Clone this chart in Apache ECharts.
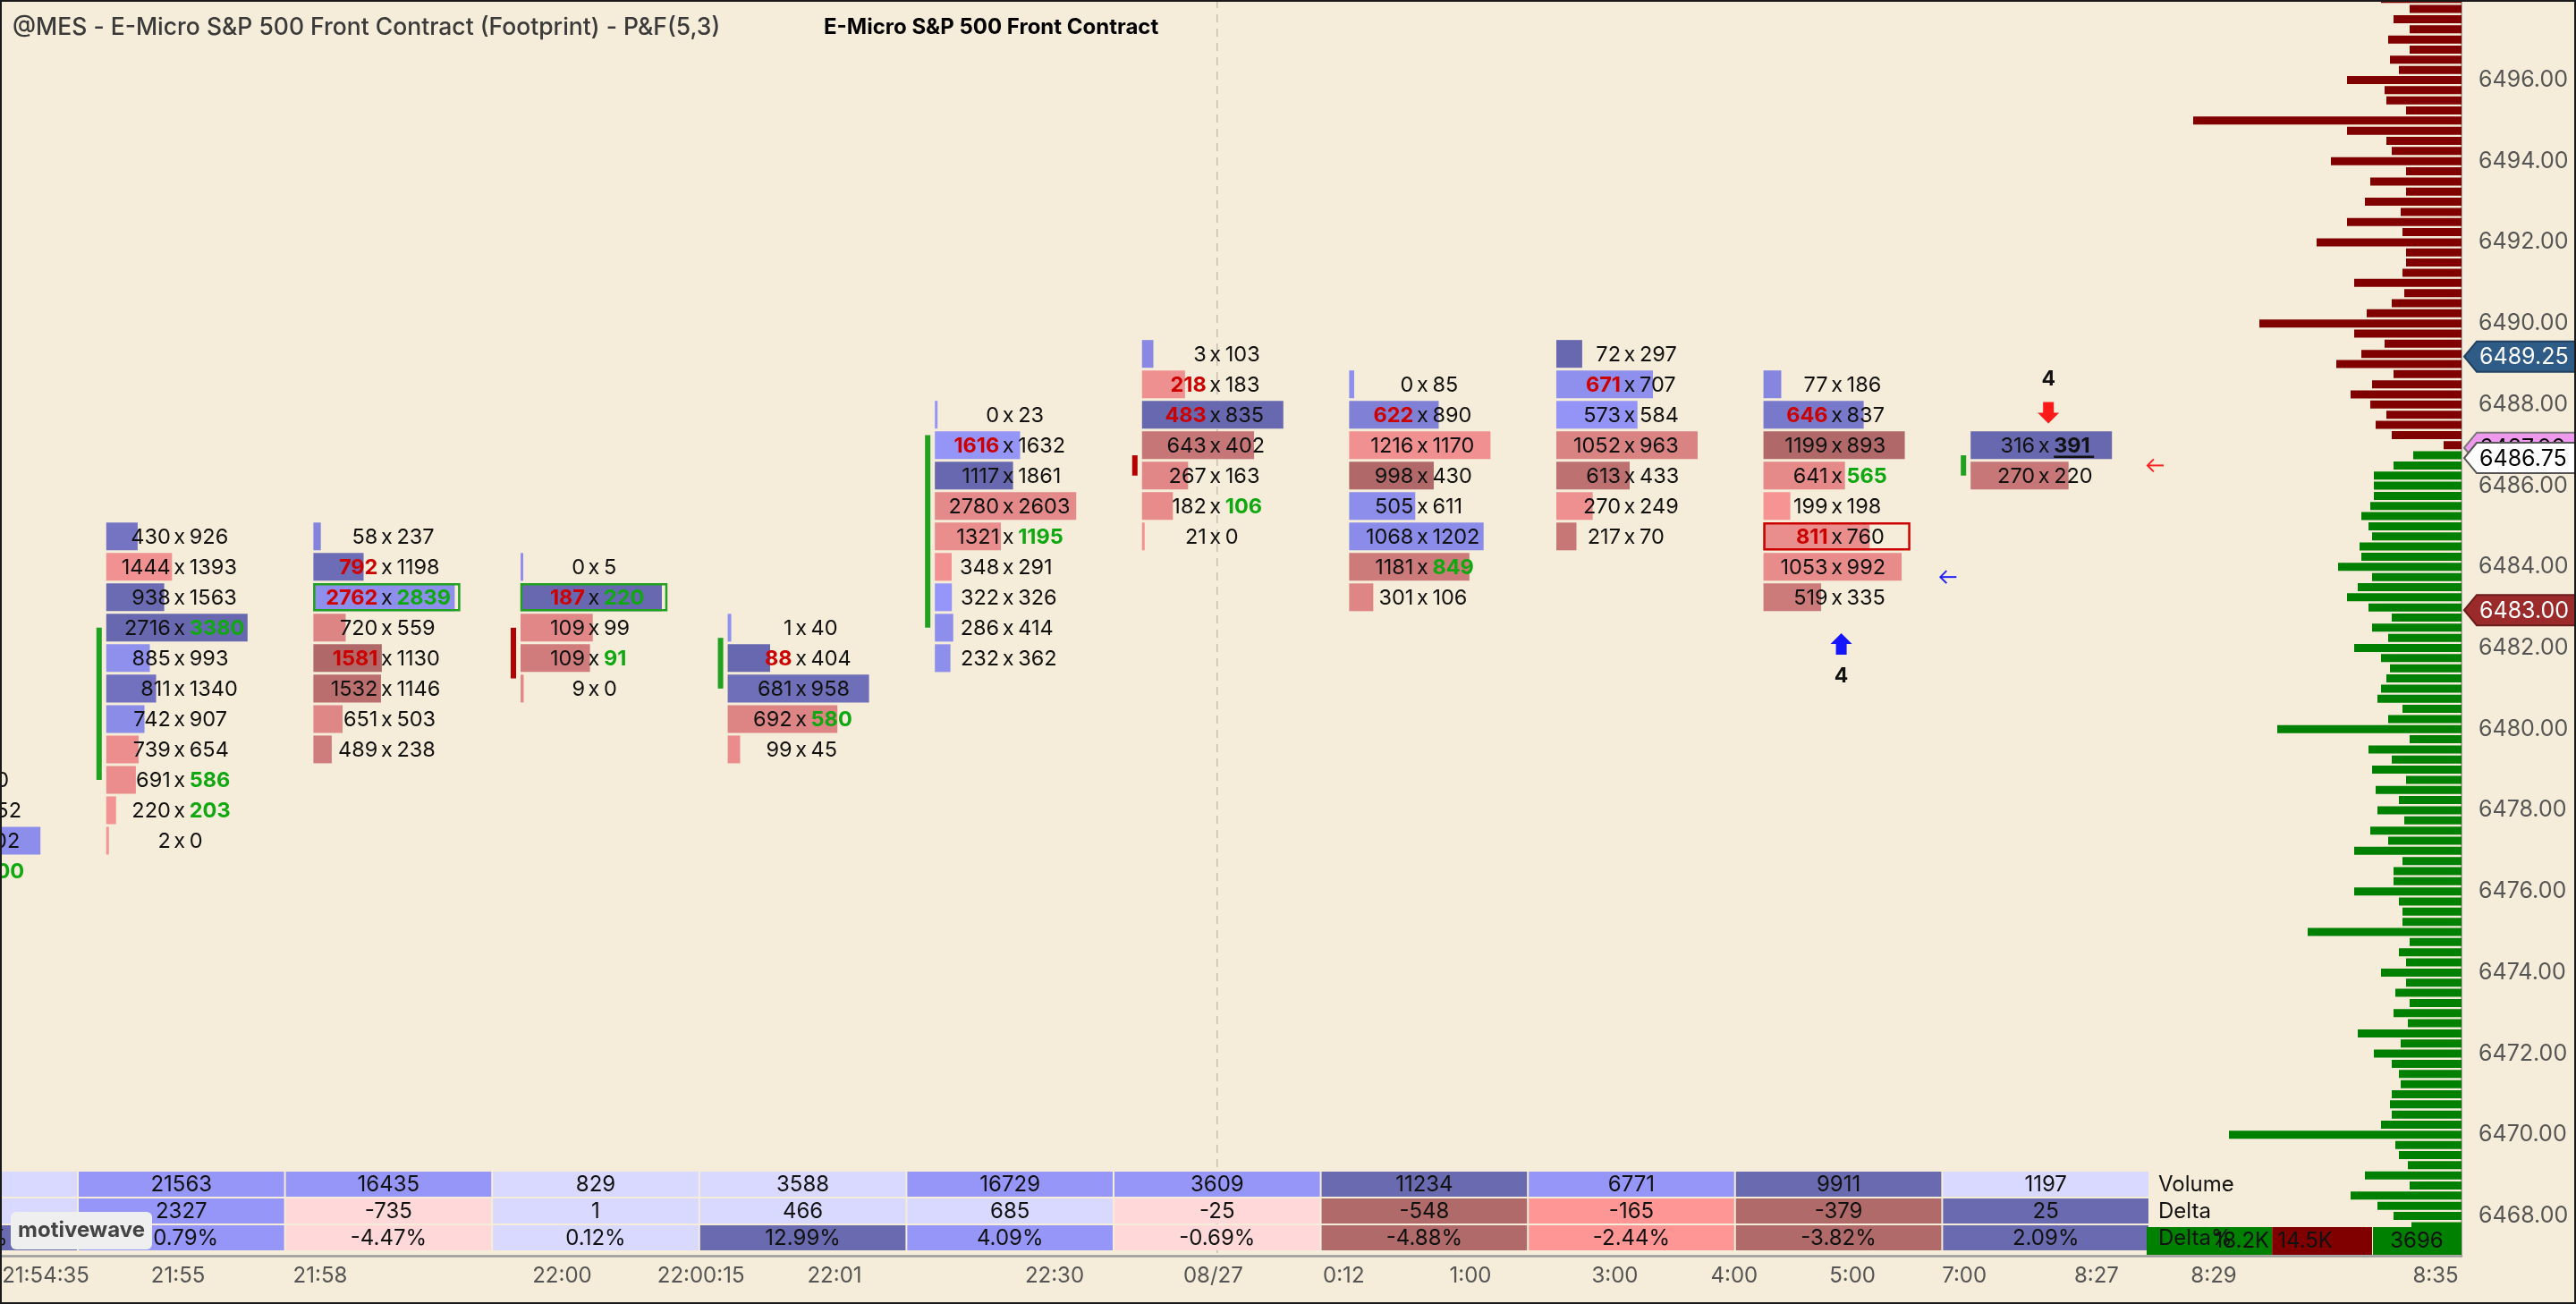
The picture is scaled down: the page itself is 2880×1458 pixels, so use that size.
<!DOCTYPE html>
<html>
<head>
<meta charset="utf-8">
<title>@MES Footprint P&amp;F</title>
<script src="https://cdn.jsdelivr.net/npm/echarts@6.0.0/dist/echarts.min.js"></script>
<style>
html,body{margin:0;padding:0;background:#f5ecd9;overflow:hidden;}
#chart{width:2880px;height:1458px;}
</style>
</head>
<body>
<div id="chart"></div>
<script>
// ================= DATA =================
const chartTitle = '@MES - E-Micro S&P 500 Front Contract (Footprint) - P&F(5,3)';
const chartSubtitle = 'E-Micro S&P 500 Front Contract';
const watermarkText = 'motivewave';

// footprint columns (index on the x axis), top price of each column, rows step down by 0.75
const columnIndex = [0, 1, 2, 3, 4, 5, 6, 7, 8, 9, 10];
const columnTopPrice = [6478.75, 6484.75, 6484.75, 6484.0, 6482.5, 6487.75, 6489.25, 6488.5, 6489.25, 6488.5, 6487.0];
const bidVolume = [
  [62, 498, 655, 360, 120],
  [430, 1444, 938, 2716, 885, 811, 742, 739, 691, 220, 2],
  [58, 792, 2762, 720, 1581, 1532, 651, 489],
  [0, 187, 109, 109, 9],
  [1, 88, 681, 692, 99],
  [0, 1616, 1117, 2780, 1321, 348, 322, 286, 232],
  [3, 218, 483, 643, 267, 182, 21],
  [0, 622, 1216, 998, 505, 1068, 1181, 301],
  [72, 671, 573, 1052, 613, 270, 217],
  [77, 646, 1199, 641, 199, 811, 1053, 519],
  [316, 270]
];
const askVolume = [
  [40, 452, 702, 600, 4],
  [926, 1393, 1563, 3380, 993, 1340, 907, 654, 586, 203, 0],
  [237, 1198, 2839, 559, 1130, 1146, 503, 238],
  [5, 220, 99, 91, 0],
  [40, 404, 958, 580, 45],
  [23, 1632, 1861, 2603, 1195, 291, 326, 414, 362],
  [103, 183, 835, 402, 163, 106, 0],
  [85, 890, 1170, 430, 611, 1202, 849, 106],
  [297, 707, 584, 963, 433, 249, 70],
  [186, 837, 893, 565, 198, 760, 992, 335],
  [391, 220]
];
const imbalanceRatio = 2;

// highlighted cells
const boxCol = [2, 3, 9];
const boxPrice = [6483.25, 6483.25, 6484.75];
const boxKind = ['both', 'both', 'bid'];
const lastTradeCol = 10;
const lastTradePrice = 6487.0;

// open/close markers at the left of columns
const markerCol = [1, 3, 4, 5, 6, 10];
const markerFrom = [6482.5, 6482.5, 6482.25, 6487.25, 6486.75, 6486.75];
const markerTo = [6478.75, 6481.25, 6481.0, 6482.5, 6486.25, 6486.25];
const markerUp = [1, 0, 1, 1, 0, 1];

// reversal signals
const signalCol = [9, 10];
const signalPrice = [6482.1, 6487.8];
const signalUp = [1, 0];
const signalCount = [4, 4];

// small side arrows
const sideArrowPos = [10.03, 11.03];
const sideArrowPrice = [6483.75, 6486.5];
const sideArrowSell = [0, 1];

// price tags on the right axis
const tagPrice = [6487.00, 6486.75, 6489.25, 6483.00];
const tagKind = ['alert', 'last', 'high', 'low'];

// time axis labels
const timeTickPos = [0.845, 1.484, 2.170, 3.338, 4.008, 4.653, 5.715, 6.481, 7.111, 7.723, 8.420, 8.996, 9.567, 10.107, 10.745, 11.311, 12.382];
const timeTickLabels = ['21:54:35', '21:55', '21:58', '22:00', '22:00:15', '22:01', '22:30', '08/27', '0:12', '1:00', '3:00', '4:00', '5:00', '7:00', '8:27', '8:29', '8:35'];
const sessionBreak = [6.5];

// price axis labels
const priceTicks = [6468, 6470, 6472, 6474, 6476, 6478, 6480, 6482, 6484, 6486, 6488, 6490, 6492, 6494, 6496, 6498];

// summary table
const tableRows = ['Volume', 'Delta', 'Delta%'];
const volumeTotals = [4120, 21563, 16435, 829, 3588, 16729, 3609, 11234, 6771, 9911, 1197];
const deltaTotals = [352, 2327, -735, 1, 466, 685, -25, -548, -165, -379, 25];
const deltaPercent = ['8.54%', '10.79%', '-4.47%', '0.12%', '12.99%', '4.09%', '-0.69%', '-4.88%', '-2.44%', '-3.82%', '2.09%'];
const volumeShade = [0, 1, 1, 0, 0, 1, 1, 2, 1, 2, 0];
const deltaShade = [0, 1, 0, 0, 0, 0, 0, 2, 1, 2, 2];
const percentShade = [2, 1, 0, 0, 2, 1, 0, 2, 1, 2, 2];

// volume profile (0.25 ticks), upper part from 6498.00 down, lower part from 6486.75 down
const profileUpperTop = 6498.0;
const profileUpperVolume = [900, 580, 760, 580, 820, 580, 800, 700, 1280, 860, 840, 620, 3000, 1280, 840, 780, 1460, 620, 1020, 620, 1080, 680, 1280, 660, 1620, 620, 620, 660, 1200, 640, 780, 1060, 2260, 1200, 860, 1120, 1400, 760, 1000, 1240, 1020, 840, 960, 780, 200];
const profileLowerTop = 6486.75;
const profileLowerVolume = [540, 760, 980, 980, 980, 1020, 1120, 1040, 1000, 1140, 1120, 1380, 1000, 1160, 1280, 1040, 780, 1000, 820, 1200, 900, 800, 840, 900, 940, 660, 820, 2060, 580, 1040, 780, 1000, 620, 960, 700, 940, 640, 1020, 820, 1200, 660, 760, 760, 1200, 700, 660, 660, 1720, 580, 700, 620, 900, 620, 740, 580, 760, 600, 1160, 680, 980, 780, 700, 680, 780, 800, 780, 900, 2600, 740, 700, 600, 1080, 580, 1240, 940, 760, 560];
const profileTotalLabels = ['18.2K', '14.5K', '3696'];
const profileTotalValues = [18200, 14500, 3696];

// ================= STYLE / LAYOUT =================
const FONT = 'Inter, "Noto Sans", sans-serif';
const X_MIN = 0.6244, X_MAX = 12.507;
const Y_MIN = 6467.02, Y_MAX = 6497.973;
const ROW_STEP = 0.75, TICK = 0.25;
const BAR_OFFSET = 82, BAR_MAX = 158;
const FP_FONT = '23.5px ';
const BLUE_LIGHT = [150, 150, 250], BLUE_DARK = [104, 104, 176];
const RED_LIGHT = [246, 148, 148], RED_DARK = [176, 104, 104];
const BOX_KINDS = ['both', 'bid'];
const BOX_COLORS = ['#22a022', '#cc0000'];
const BLUE_SHADES = ['#d9d9ff', '#9696f8', '#6a6ab0'];
const RED_SHADES = ['#ffd9d9', '#ff9696', '#b06a6a'];
const TAG_STYLE = {
  alert: { fill: '#ee99ee', stroke: '#777', text: '#000' },
  last: { fill: '#ffffff', stroke: '#555', text: '#000' },
  high: { fill: '#2f5b87', stroke: '#22405f', text: '#fff' },
  low: { fill: '#9b2a2a', stroke: '#6a1c1c', text: '#fff' }
};

function mix(a, b, t) {
  t = Math.max(0, Math.min(1, t));
  return 'rgb(' + a.map((v, i) => Math.round(v + (b[i] - v) * t)).join(',') + ')';
}
function txt(x, y, text, font, fill, align, vAlign) {
  return { type: 'text', style: { x, y, text, font, fill, align, textAlign: align, verticalAlign: vAlign || 'middle', textVerticalAlign: vAlign || 'middle' } };
}

// ---------- build footprint items ----------
const fpItems = [];
columnIndex.forEach(c => {
  const bids = bidVolume[c], asks = askVolume[c];
  let maxTot = 0, maxD = 0;
  bids.forEach((b, i) => { maxTot = Math.max(maxTot, b + asks[i]); maxD = Math.max(maxD, Math.abs(asks[i] - b)); });
  bids.forEach((b, i) => {
    const a = asks[i];
    const price = columnTopPrice[c] - i * ROW_STEP;
    const bidImb = (i > 0 && b > 0 && b >= imbalanceRatio * asks[i - 1]) ? 1 : 0;
    const askImb = (i < bids.length - 1 && a > 0 && a >= imbalanceRatio * bids[i + 1]) ? 1 : 0;
    let box = -1;
    boxCol.forEach((bc, k) => { if (bc === c && Math.abs(boxPrice[k] - price) < 1e-6) box = BOX_KINDS.indexOf(boxKind[k]); });
    const under = (c === lastTradeCol && Math.abs(price - lastTradePrice) < 1e-6) ? 1 : 0;
    fpItems.push([c, price, b, a, maxTot, maxD, bidImb, askImb, box, under]);
  });
});

function renderFootprint(params, api) {
  const c = api.value(0), price = api.value(1);
  const bid = api.value(2), ask = api.value(3), maxTot = api.value(4), maxD = api.value(5);
  const bidImb = api.value(6), askImb = api.value(7), box = api.value(8), under = api.value(9);
  const p = api.coord([c + 0.5, price]);
  const cx = p[0] - 2, cy = p[1];
  const rowH = api.size([0, ROW_STEP])[1];
  const barLeft = cx - BAR_OFFSET;
  const w = Math.max(3, (bid + ask) / maxTot * BAR_MAX);
  const d = ask - bid;
  const t = maxD > 0 ? Math.abs(d) / maxD : 0;
  const fill = d > 0 ? mix(BLUE_LIGHT, BLUE_DARK, t) : mix(RED_LIGHT, RED_DARK, t);
  const children = [
    { type: 'rect', shape: { x: barLeft, y: cy - rowH / 2 + 1.5, width: w, height: rowH - 3 }, style: { fill } }
  ];
  if (box >= 0) {
    children.push({ type: 'rect', shape: { x: barLeft + 1, y: cy - rowH / 2 + 2.5, width: BAR_MAX + 4, height: rowH - 5 },
      style: { fill: 'none', stroke: BOX_COLORS[box], lineWidth: 2.5 } });
  }
  const bidStr = String(bid), askStr = String(ask);
  children.push(txt(cx - 10, cy + 1, bidStr, (bidImb ? 'bold ' : '') + FP_FONT + FONT, bidImb ? '#cc0000' : '#111', 'right'));
  children.push(txt(cx, cy + 1, 'x', FP_FONT + FONT, '#111', 'center'));
  children.push(txt(cx + 11, cy + 1, askStr, ((askImb || under) ? 'bold ' : '') + FP_FONT + FONT, askImb ? '#10a810' : '#111', 'left'));
  if (under) {
    const tw = askStr.length * 15;
    children.push({ type: 'line', shape: { x1: cx + 11, y1: cy + 13, x2: cx + 11 + tw, y2: cy + 13 }, style: { stroke: '#111', lineWidth: 2.5 } });
  }
  return { type: 'group', children };
}

function renderMarker(params, api) {
  const c = api.value(0);
  const a = api.coord([c + 0.5, api.value(1)]);
  const b = api.coord([c + 0.5, api.value(2)]);
  const x = a[0] - 2 - BAR_OFFSET - 11;
  return { type: 'rect', shape: { x, y: Math.min(a[1], b[1]), width: 6, height: Math.abs(b[1] - a[1]) },
    style: { fill: api.value(3) ? '#22a022' : '#b30000' } };
}

function renderSignal(params, api) {
  const c = api.value(0), up = api.value(2), count = api.value(3);
  const p = api.coord([c + 0.5, api.value(1)]);
  const cx = p[0] + 3, cy = p[1];
  const s = up ? -1 : 1;
  const pts = [[cx - 6, cy - 12 * s], [cx + 6, cy - 12 * s], [cx + 6, cy], [cx + 12, cy], [cx, cy + 12 * s], [cx - 12, cy], [cx - 6, cy]];
  return { type: 'group', children: [
    { type: 'polygon', shape: { points: pts }, style: { fill: up ? '#1515ff' : '#ff1a1a' } },
    txt(cx, up ? cy + 36 : cy - 37, String(count), 'bold 23px ' + FONT, '#111', 'center')
  ] };
}

function renderSideArrow(params, api) {
  const p = api.coord([api.value(0), api.value(1)]);
  const x = p[0], y = p[1];
  const col = api.value(2) ? '#ff2020' : '#2020ff';
  return { type: 'group', children: [
    { type: 'line', shape: { x1: x - 9, y1: y, x2: x + 9, y2: y }, style: { stroke: col, lineWidth: 2 } },
    { type: 'polyline', shape: { points: [[x - 2, y - 7], [x - 9, y], [x - 2, y + 7]] }, style: { stroke: col, fill: 'none', lineWidth: 2 } }
  ] };
}

function renderTag(params, api) {
  const cs = params.coordSys;
  const x0 = cs.x + cs.width;
  const y = api.coord([X_MAX, api.value(0)])[1] + 3;
  const st = TAG_STYLE[tagKind[api.value(1)]];
  const pts = [[x0 + 3, y], [x0 + 17, y - 17], [x0 + 132, y - 17], [x0 + 132, y + 17], [x0 + 17, y + 17]];
  return { type: 'group', children: [
    { type: 'polygon', shape: { points: pts }, style: { fill: st.fill, stroke: st.stroke, lineWidth: 2 } },
    txt(x0 + 20, y + 1, api.value(0).toFixed(2), '25px ' + FONT, st.text, 'left')
  ] };
}

function renderBreak(params, api) {
  const cs = params.coordSys;
  const x = api.coord([api.value(0), Y_MAX])[0];
  return { type: 'line', shape: { x1: x, y1: cs.y, x2: x, y2: cs.y + cs.height },
    style: { stroke: '#c9bfad', lineWidth: 1.5, lineDash: [9, 7] } };
}

// ---------- table ----------
const tableText = [volumeTotals.map(String), deltaTotals.map(String), deltaPercent];
const tableShade = [volumeShade, deltaShade, percentShade];
const tableItems = [];
columnIndex.forEach(c => { for (let r = 0; r < 3; r++) tableItems.push([c, r]); });

function renderTable(params, api) {
  const c = api.value(0), r = api.value(1);
  const p = api.coord([c, r]);
  const s = api.size([1, 1]);
  const neg = r > 0 && deltaTotals[c] < 0;
  const fill = (neg ? RED_SHADES : BLUE_SHADES)[tableShade[r][c]];
  return { type: 'group', children: [
    { type: 'rect', shape: { x: p[0] + 1, y: p[1] - s[1] / 2 + 1, width: s[0] - 2, height: s[1] - 2 }, style: { fill } },
    txt(p[0] + s[0] / 2, p[1] + 1, tableText[r][c], '24px ' + FONT, '#111', 'center')
  ] };
}

function renderTableSide(params, api) {
  const cs = params.coordSys;
  const startU = api.value(0);
  const children = [];
  const rowC = [0, 1, 2].map(r => api.coord([startU, r]));
  const xs = rowC[2][0] - 3;
  const xe = cs.x + cs.width;
  const yc = rowC[2][1];
  const deltaW = 100;
  const rest = xe - deltaW - xs;
  const buyW = rest * profileTotalValues[0] / (profileTotalValues[0] + profileTotalValues[1]);
  children.push({ type: 'rect', shape: { x: xs, y: yc - 12, width: buyW, height: 31 }, style: { fill: '#008000' } });
  children.push({ type: 'rect', shape: { x: xs + buyW, y: yc - 12, width: rest - buyW, height: 31 }, style: { fill: '#800000' } });
  children.push({ type: 'rect', shape: { x: xe - deltaW + 1, y: yc - 12, width: deltaW - 1, height: 31 }, style: { fill: '#008000' } });
  tableRows.forEach((name, r) => children.push(txt(rowC[r][0] + 10, rowC[r][1] + 1, name, '24px ' + FONT, '#111', 'left')));
  children.push(txt(xs + buyW - 3, yc + 4, profileTotalLabels[0], '24px ' + FONT, '#111', 'right'));
  children.push(txt(xs + buyW + 6, yc + 4, profileTotalLabels[1], '24px ' + FONT, '#111', 'left'));
  children.push(txt(xe - deltaW / 2, yc + 4, profileTotalLabels[2], '24px ' + FONT, '#111', 'center'));
  // watermark badge at the lower-left of the table
  const wx = cs.x + 12, wy = cs.y + 46;
  children.push({ type: 'rect', shape: { x: wx, y: wy, width: 158, height: 42, r: 6 }, style: { fill: '#efefef' } });
  children.push(txt(wx + 79, wy + 21, watermarkText, 'bold 24px ' + FONT, '#444', 'center'));
  return { type: 'group', children };
}

function renderFrame(params, api) {
  const W = api.getWidth(), H = api.getHeight();
  return { type: 'rect', shape: { x: 1, y: 1, width: W - 2, height: H - 2 }, style: { fill: 'none', stroke: '#1a1a1a', lineWidth: 2 } };
}

// ---------- profile ----------
const profileItems = [];
profileUpperVolume.forEach((v, i) => profileItems.push([v, profileUpperTop - i * TICK, 1]));
profileLowerVolume.forEach((v, i) => profileItems.push([v, profileLowerTop - i * TICK, 0]));

function renderProfile(params, api) {
  const price = api.value(1);
  const a = api.coord([0, price]);
  const b = api.coord([api.value(0), price]);
  return { type: 'rect', shape: { x: b[0], y: a[1] - 4.5, width: a[0] - b[0], height: 9 },
    style: { fill: api.value(2) ? '#800000' : '#008000' } };
}

function timeLabel(v) {
  for (let i = 0; i < timeTickPos.length; i++) if (Math.abs(timeTickPos[i] - v) < 1e-4) return timeTickLabels[i];
  return '';
}

// ================= CHART =================
const chart = echarts.init(document.getElementById('chart'));
chart.setOption({
  backgroundColor: '#f5ecd9',
  animation: false,
  textStyle: { fontFamily: FONT },
  title: [
    { text: chartTitle, left: 9, top: 13, textStyle: { fontFamily: FONT, fontSize: 26.5, fontWeight: 500, color: '#3a3a3a' } },
    { text: chartSubtitle, left: 916, top: 14, textStyle: { fontFamily: FONT, fontSize: 24, fontWeight: 'bold', color: '#000' } }
  ],
  grid: [
    { left: 0, right: 128, top: 0, bottom: 54, outerBoundsMode: 'none' },
    { left: 0, right: 128, top: 1309, height: 90, outerBoundsMode: 'none' },
    { left: 2352, right: 128, top: 0, bottom: 54, outerBoundsMode: 'none' }
  ],
  xAxis: [
    { gridIndex: 0, type: 'value', min: X_MIN, max: X_MAX,
      axisLine: { show: true, onZero: false, lineStyle: { color: '#9a9a9a', width: 2.5 } },
      axisTick: { show: false }, splitLine: { show: false },
      axisLabel: { customValues: timeTickPos, formatter: timeLabel, color: '#555', fontSize: 24, fontFamily: FONT, margin: 11 } },
    { gridIndex: 1, type: 'value', min: X_MIN, max: X_MAX, show: false },
    { gridIndex: 2, type: 'value', min: 0, max: 4000, inverse: true, show: false }
  ],
  yAxis: [
    { gridIndex: 0, type: 'value', position: 'right', min: Y_MIN, max: Y_MAX,
      axisLine: { show: true, onZero: false, lineStyle: { color: '#a8a8a8', width: 2 } },
      axisTick: { show: false }, splitLine: { show: false },
      axisLabel: { customValues: priceTicks, formatter: v => v.toFixed(2), color: '#555', fontSize: 25, fontFamily: FONT, margin: 19, padding: [8, 0, 0, 0] } },
    { gridIndex: 1, type: 'category', data: tableRows, inverse: true, show: false },
    { gridIndex: 2, type: 'value', min: Y_MIN, max: Y_MAX, show: false }
  ],
  series: [
    { type: 'custom', name: 'session', xAxisIndex: 0, yAxisIndex: 0, z: 1, silent: true, data: sessionBreak.map(v => [v]), renderItem: renderBreak },
    { type: 'custom', name: 'profile', xAxisIndex: 2, yAxisIndex: 2, z: 2, silent: true, data: profileItems, renderItem: renderProfile },
    { type: 'custom', name: 'footprint', xAxisIndex: 0, yAxisIndex: 0, z: 3, silent: true, data: fpItems, renderItem: renderFootprint },
    { type: 'custom', name: 'markers', xAxisIndex: 0, yAxisIndex: 0, z: 3, silent: true,
      data: markerCol.map((c, i) => [c, markerFrom[i], markerTo[i], markerUp[i]]), renderItem: renderMarker },
    { type: 'custom', name: 'signals', xAxisIndex: 0, yAxisIndex: 0, z: 4, silent: true,
      data: signalCol.map((c, i) => [c, signalPrice[i], signalUp[i], signalCount[i]]), renderItem: renderSignal },
    { type: 'custom', name: 'sideArrows', xAxisIndex: 0, yAxisIndex: 0, z: 4, silent: true,
      data: sideArrowPos.map((u, i) => [u, sideArrowPrice[i], sideArrowSell[i]]), renderItem: renderSideArrow },
    { type: 'custom', name: 'table', xAxisIndex: 1, yAxisIndex: 1, z: 5, silent: true, data: tableItems, renderItem: renderTable },
    { type: 'custom', name: 'tableSide', xAxisIndex: 1, yAxisIndex: 1, z: 6, silent: true, data: [[11, 0]], renderItem: renderTableSide },
    { type: 'custom', name: 'tags', xAxisIndex: 0, yAxisIndex: 0, z: 10, silent: true,
      data: tagPrice.map((p, i) => [p, i]), renderItem: renderTag },
    { type: 'custom', name: 'frame', xAxisIndex: 0, yAxisIndex: 0, z: 20, silent: true, data: [[1, 6480]], renderItem: renderFrame }
  ]
});
</script>
</body>
</html>
